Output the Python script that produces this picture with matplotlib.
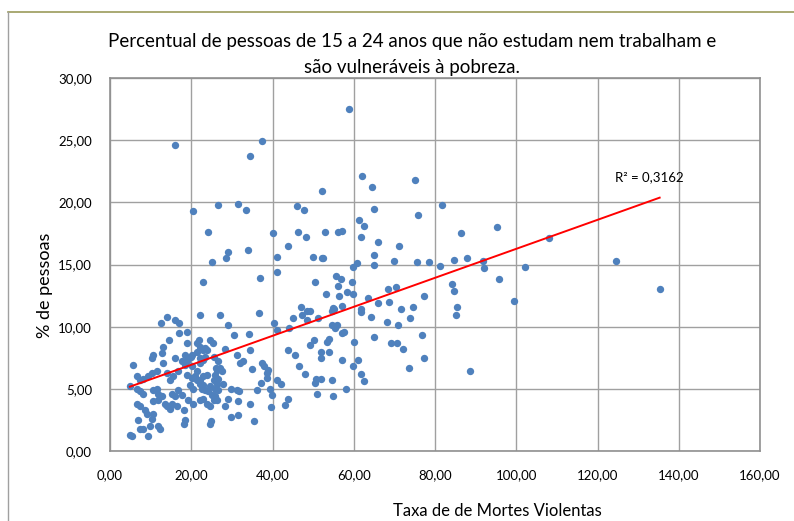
import matplotlib.pyplot as plt
import numpy as np

plt.rcParams['font.family'] = ['Lato', 'DejaVu Sans']

# Taxa de mortes violentas (x) e % de pessoas (y)
taxa_mortes = [
    16.0, 34.5, 37.4, 58.9, 62.1, 64.4, 52.1, 75.1, 20.4, 26.7, 31.5, 33.4, 46.1, 47.7, 81.7, 65.0, 75.7,
    61.3, 62.6, 52.8, 56.2, 57.1, 61.8, 65.9, 71.1, 86.5, 95.2, 108.0, 24.0, 40.0, 46.2, 48.3, 43.9, 33.9,
    29.0, 28.6, 25.2, 41.0, 49.9, 52.1, 52.4, 64.9, 60.8, 59.9, 65.0, 70.0, 75.5, 78.6, 81.3, 84.7, 87.9,
    91.9, 92.0, 102.1, 124.6, 95.7, 135.3, 99.5, 41.0, 36.9, 22.9, 50.5, 55.7, 56.8, 56.0, 59.5, 58.3,
    59.9, 53.2, 56.4, 68.5, 70.4, 63.5, 65.9, 68.6, 77.2, 84.1, 84.7, 85.4, 85.1, 55.0, 57.2, 61.7, 71.6,
    74.7,
    54.6, 55.2, 51.2, 49.3, 61.9, 64.2, 73.8, 68.1, 70.9, 54.6, 55.8, 55.3, 57.5, 57.1, 65.1, 76.8, 60.0,
    69.1, 70.7, 72.1, 50.2, 49.3, 53.3, 53.9, 52.0, 53.9, 51.9, 57.1, 61.0, 77.3, 59.7, 61.8, 62.4, 73.5,
    88.7, 50.7, 50.5, 52.0, 54.6, 58.2, 51.0, 54.9,
    22.2, 27.1, 36.7, 29.0, 30.4, 34.3, 40.4, 41.1, 47.0, 48.6, 47.2, 48.4, 44.1, 45.0, 24.6, 25.3, 23.4,
    23.0, 28.3, 25.5, 31.2, 34.5, 26.7, 27.1, 27.5, 32.0, 32.7, 34.9, 37.4, 37.9, 38.6, 39.0, 38.6, 37.2,
    36.3, 41.0, 42.1, 43.9, 45.6, 46.4, 48.0, 43.7, 43.1, 39.6, 34.5, 35.5, 31.6, 29.8, 28.3, 29.1, 31.6,
    29.8, 31.2, 31.8, 39.4, 39.8, 24.5, 24.8, 22.6, 23.4, 24.2, 25.0, 25.5, 24.6, 23.8, 23.0, 25.9, 26.3,
    25.5, 22.2, 23.0, 24.6, 25.9, 26.7, 27.9, 26.1, 26.7, 23.0, 23.8, 22.2, 23.0, 23.4,
    12.6, 14.0, 16.0, 17.0, 17.0, 18.9, 19.0, 14.6, 13.1, 12.7, 10.7, 10.3, 16.1, 13.0, 19.9, 18.9, 18.5,
    5.7, 6.6, 7.4, 8.2, 9.4, 10.3, 11.5, 14.0, 14.8, 15.6, 16.8, 18.9, 20.9, 21.4, 20.1, 4.9, 7.4, 8.2,
    6.6, 10.7, 11.5, 11.9, 10.7, 11.9, 12.7, 13.5, 14.0, 14.8, 15.2, 16.4, 15.2, 16.0, 16.8, 17.7, 6.6,
    7.4, 8.6, 9.0, 10.3, 10.7, 7.0, 7.4, 8.2, 9.9, 9.4, 4.9, 5.3, 12.3, 11.9, 18.1, 18.5, 18.1, 19.3,
    20.5, 22.2, 26.3, 19.7, 20.5, 22.2, 21.4, 20.1, 17.7, 18.5, 22.2, 21.4, 20.1, 22.2, 21.4, 21.8, 23.8,
    26.3, 25.9,
]
pct_pessoas = [
    24.6, 23.7, 24.9, 27.5, 22.1, 21.2, 20.9, 21.8, 19.3, 19.8, 19.9, 19.4, 19.7, 19.4, 19.8, 19.5, 19.0,
    18.6, 18.1, 17.6, 17.6, 17.7, 17.2, 16.8, 16.5, 17.5, 18.0, 17.1, 17.6, 17.5, 17.6, 17.2, 16.5, 16.2,
    16.0, 15.5, 15.2, 15.6, 15.6, 15.5, 15.5, 15.8, 15.1, 14.8, 15.0, 15.3, 15.2, 15.2, 14.9, 15.4, 15.5,
    15.3, 14.7, 14.8, 15.3, 13.8, 13.0, 12.1, 14.4, 13.9, 13.6, 13.6, 14.1, 13.8, 13.3, 13.6, 12.8,
    12.6, 12.6, 12.5, 13.0, 13.2, 12.3, 11.9, 12.0, 12.5, 13.4, 12.9, 11.6, 10.9, 11.5, 11.7, 11.4, 11.4,
    11.6,
    11.3, 11.4, 10.7, 11.3, 11.2, 10.8, 10.7, 10.4, 10.1, 10.1, 10.1, 9.9, 9.6, 9.5, 9.2, 9.3, 8.8,
    8.7, 8.7, 8.2, 8.9, 8.5, 8.8, 9.0, 8.0, 8.0, 7.5, 7.3, 7.3, 7.5, 6.8, 6.2, 5.6, 6.7,
    6.4, 5.8, 5.5, 5.8, 5.7, 5.0, 4.6, 4.4,
    10.9, 10.9, 11.1, 10.1, 9.3, 9.4, 10.3, 9.7, 11.6, 11.3, 10.9, 10.5, 9.9, 10.7, 8.9, 8.7, 8.3,
    8.1, 8.2, 7.6, 7.7, 8.1, 7.2, 6.7, 6.4, 7.1, 7.2, 6.6, 7.1, 6.8, 6.3, 6.5, 5.9, 5.5,
    4.9, 5.7, 5.4, 8.1, 7.7, 6.8, 6.2, 4.2, 3.7, 3.5, 3.8, 2.4, 2.9, 2.7, 3.6, 4.2, 4.0,
    5.0, 4.9, 4.8, 5.0, 4.5, 2.2, 2.4, 5.0, 4.9, 4.8, 4.5, 4.1, 3.6, 3.8, 4.2, 5.0, 5.4,
    5.7, 5.7, 5.3, 5.2, 4.4, 4.9, 5.4, 6.7, 5.8, 6.0, 6.1, 7.1, 7.3, 7.6,
    10.3, 10.8, 10.5, 10.3, 9.5, 9.6, 8.7, 8.9, 8.4, 7.9, 7.7, 7.5, 7.5, 7.1, 7.6, 7.2, 6.9,
    6.9, 6.0, 5.7, 5.8, 6.0, 6.3, 6.4, 6.3, 5.7, 6.0, 6.4, 6.1, 6.0, 5.7, 6.8, 5.2, 4.8, 4.6,
    5.0, 4.9, 5.0, 4.6, 4.0, 4.1, 4.4, 3.8, 3.6, 3.4, 3.8, 3.6, 4.6, 4.4, 4.9, 4.5, 3.8,
    3.6, 3.3, 3.0, 2.6, 3.0, 2.5, 1.8, 1.8, 2.0, 1.2, 1.3, 1.2, 1.8, 2.0, 3.3, 2.5, 2.2, 4.1,
    3.8, 4.1, 4.1, 5.3, 5.0, 5.4, 6.4, 5.9, 7.2, 7.7, 7.5, 8.0, 7.7, 8.4, 8.7, 8.9, 8.1,
    6.5, 6.1,
]

# linha de tendência
tendencia_coef = [0.1166, 4.6]
r2_texto = "R² = 0,3162"

x_ticks = [0, 20, 40, 60, 80, 100, 120, 140, 160]
y_ticks = [0, 5, 10, 15, 20, 25, 30]

fig = plt.figure(figsize=(7.94, 5.21), dpi=100)
ax = fig.add_axes([110 / 794, 1 - 451 / 521, 650 / 794, 373 / 521])

ax.scatter(taxa_mortes, pct_pessoas, s=28, color='#4F81BD', zorder=3, linewidths=0)

xs = np.array([min(taxa_mortes), max(taxa_mortes)])
ax.plot(xs, np.polyval(tendencia_coef, xs), color='#FF0000', lw=1.4, zorder=4)
ax.text(124.3, 22.0, r2_texto, fontsize=9.5, ha='left', va='center')

ax.set_xlim(0, 160)
ax.set_ylim(0, 30)
ax.set_xticks(x_ticks)
ax.set_yticks(y_ticks)
ax.set_xticklabels([f"{v:.2f}".replace('.', ',') for v in x_ticks])
ax.set_yticklabels([f"{v:.2f}".replace('.', ',') for v in y_ticks])
ax.tick_params(length=0, labelsize=9.5, pad=13)
ax.tick_params(axis='y', pad=13)
ax.grid(True, color='#A0A0A0', lw=1.0)
ax.set_axisbelow(True)
for s in ax.spines.values():
    s.set_color('#909090')
    s.set_linewidth(1.2)

fig.text(412 / 794, 1 - 42 / 521, "Percentual de pessoas de 15 a 24 anos que não estudam nem trabalham e",
         ha='center', va='center', fontsize=13.5)
fig.text(412 / 794, 1 - 67 / 521, "são vulneráveis à pobreza.", ha='center', va='center', fontsize=13.5)
fig.text(497 / 794, 1 - 511 / 521, "Taxa de de Mortes Violentas", ha='center', va='center', fontsize=12)
fig.text(45 / 794, 1 - 285 / 521, "% de pessoas", ha='center', va='center', fontsize=13, rotation=90)

# moldura do gráfico
fig.add_artist(plt.Line2D([8 / 794, 1], [1 - 12 / 521] * 2, color='#9B9B5B', lw=1.2))
fig.add_artist(plt.Line2D([8 / 794] * 2, [0, 1 - 12 / 521], color='#A0A0A0', lw=1.0))

fig.savefig('out.png', dpi=100)
